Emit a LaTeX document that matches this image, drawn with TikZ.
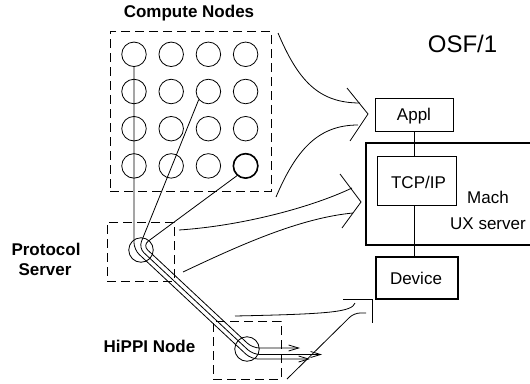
\documentclass[tikz,border=0pt]{standalone}
\usepackage{fontspec}
\setmainfont{Liberation Sans}
\usetikzlibrary{arrows.meta}
\begin{document}
\begin{tikzpicture}[x=1pt,y=-1pt, line width=0.8pt,
  dbox/.style={draw, dash pattern=on 9pt off 5pt, line width=0.8pt, inner sep=0pt},
  cnode/.style={draw, circle, minimum size=24.5pt, inner sep=0pt, line width=0.8pt},
  sbox/.style={draw, rectangle, inner sep=0pt, line width=0.8pt},
  tbox/.style={draw, rectangle, inner sep=0pt, line width=2pt},
  lbl/.style={anchor=base, inner sep=0pt, font=\fontsize{17}{20}\selectfont},
  blbl/.style={anchor=base, inner sep=0pt, font=\fontsize{17}{20}\selectfont\bfseries},
  barb/.style={-{Straight Barb[length=10pt,width=6pt]}},
  bigarrow/.style={line width=0.8pt}
]
\useasboundingbox (0,0) rectangle (530,383);

% dashed group boxes
\node[dbox, minimum width=161pt, minimum height=160pt] (compbox) at (190.5,111) {};
\node[dbox, minimum width=67pt, minimum height=59pt] (protbox) at (140.5,251.5) {};
\node[dbox, minimum width=68pt, minimum height=58pt] (hipbox) at (247,350) {};

% compute node grid
\foreach \r/\yy in {1/54.3,2/91.5,3/128.7,4/165.9}{
  \foreach \c/\xx in {1/134,2/171.2,3/208.4,4/245.6}{
    \node[cnode] (c\r\c) at (\xx,\yy) {};
  }
}
\draw[line width=1.6pt] (c44) circle (12.25pt);

% protocol server and hippi node circles
\node[cnode] (prot) at (141,250) {};
\node[cnode] (hip) at (247,349) {};

% tube coordinates
\coordinate (A1) at (134,249.6);
\coordinate (A2) at (138.8,248.0);
\coordinate (A3) at (142.6,245.3);
\coordinate (B1) at (251.1,359);
\coordinate (B2) at (252.9,354.5);
\coordinate (B3) at (252.5,348);
\coordinate (E1) at (310,359);
\coordinate (E2) at (322,354.5);
\coordinate (E3) at (300,348);

\draw[rounded corners=7pt, barb] (c11.south) -- (A1) -- (B1) -- (E1);
\draw[rounded corners=7pt, barb] (c23.220) -- (A2) -- (B2) -- (E2);
\draw[rounded corners=7pt, barb] (c44.229) -- (A3) -- (B3) -- (E3);

% right side boxes
\node[sbox, minimum width=78pt, minimum height=33pt] (appl) at (414,114.5) {};
\node[tbox, minimum width=179pt, minimum height=102pt] (mach) at (455.5,194) {};
\node[sbox, minimum width=79pt, minimum height=49pt] (tcp) at (416.5,180.5) {};
\node[tbox, minimum width=82pt, minimum height=42pt] (dev) at (417,278) {};

\draw (appl.south) -- (appl.south |- tcp.north);
\draw (appl.south |- tcp.south) -- (appl.south |- dev.north);

% labels
\node[blbl] (lcomp) at (189,17) {Compute Nodes};
\node[blbl] (lprot1) at (46,255) {Protocol};
\node[blbl] (lprot2) at (45,275) {Server};
\node[blbl] (lhippi) at (149.5,352) {HiPPI Node};
\node[anchor=base, inner sep=0pt, font=\fontsize{24}{28}\selectfont] (losf) at (462.5,52) {OSF/1};
\node[lbl] (lappl) at (414,120) {Appl};
\node[lbl] (ltcp) at (418.5,188) {TCP/IP};
\node[lbl] (lmach) at (488,203) {Mach};
\node[lbl] (lux) at (488,229) {UX server};
\node[lbl] (ldev) at (416,284) {Device};

% big arrow to Appl
\coordinate (pa1) at (278,33);
\coordinate (pa2) at (360,103);
\coordinate (pa3) at (276,197);
\coordinate (pa4) at (358,125);
\coordinate (ha1) at (347,88);
\coordinate (ha2) at (368,114);
\coordinate (ha3) at (350,141);
\draw[bigarrow] (pa1) .. controls (298,80) and (318,103) .. (pa2);
\draw[bigarrow] (pa3) .. controls (296,150) and (318,125) .. (pa4);
\draw[bigarrow] (ha1) -- (ha2) -- (ha3);

% big arrow to Mach
\coordinate (pm1) at (179,230);
\coordinate (pm2) at (352,188);
\coordinate (pm3) at (183,272);
\coordinate (pm4) at (353,213);
\coordinate (hm1) at (340,174);
\coordinate (hm2) at (361,202);
\coordinate (hm3) at (342,228);
\draw[bigarrow] (pm1) .. controls (240,226) and (310,208) .. (pm2);
\draw[bigarrow] (pm3) .. controls (240,245) and (300,218) .. (pm4);
\draw[bigarrow] (hm1) -- (hm2) -- (hm3);

% big arrow to Device
\coordinate (pd1) at (235,316);
\coordinate (pd2) at (355,303);
\coordinate (pd3) at (287,379);
\coordinate (pd4) at (354,313);
\coordinate (pd5) at (366,313);
\coordinate (hd1) at (343,299);
\coordinate (hd2) at (372,299);
\coordinate (hd3) at (372,323);
\draw[bigarrow] (pd1) .. controls (330,314) and (352,312) .. (pd2);
\draw[bigarrow, rounded corners=6pt] (pd3) -- (pd4) -- (pd5);
\draw[bigarrow] (hd1) -- (hd2) -- (hd3);
\end{tikzpicture}
\end{document}
